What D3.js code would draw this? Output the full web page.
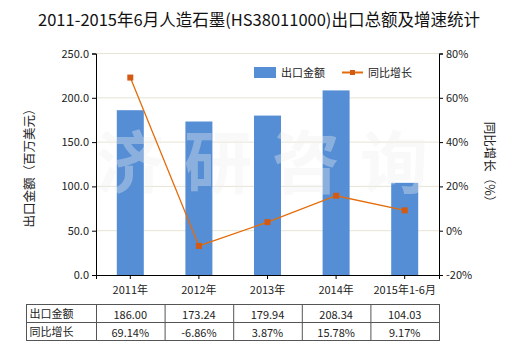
<!DOCTYPE html>
<html><head><meta charset="utf-8">
<script src="https://cdn.jsdelivr.net/npm/d3@7"></script>
<style>body{margin:0;background:#fff}svg{display:block}text{font-family:"Noto Sans CJK SC","Noto Sans",sans-serif}</style>
</head><body><svg id="c" width="520" height="350"></svg>
<script>
const categories=["2011年","2012年","2013年","2014年","2015年1-6月"];
const exportValues=[186.00,173.24,179.94,208.34,104.03];
const growthValues=[69.14,-6.86,3.87,15.78,9.17];
const exportLabels=["186.00","173.24","179.94","208.34","104.03"];
const growthLabels=["69.14%","-6.86%","3.87%","15.78%","9.17%"];
const leftTicks=[0,50,100,150,200,250];
const rightTicks=[-20,0,20,40,60,80];
const seriesNames=["出口金额","同比增长"];
const title="2011-2015年6月人造石墨(HS38011000)出口总额及增速统计";

const svg=d3.select("#c");
const L=96,R=439,T=53.5,B=275;
const xc=d3.scaleBand().domain(categories).range([L,R]);
const y=d3.scaleLinear().domain([0,250]).range([B,T]);
const y2=d3.scaleLinear().domain([-20,80]).range([B,T]);
const blue="#558ed5",orange="#e46c0a",mark="#d35a12";

svg.append("text").attr("x",259).attr("y",26).attr("text-anchor","middle").attr("font-size",16.5).attr("fill","#111").text(title);

// grid
svg.append("g").selectAll("line").data(leftTicks.slice(1)).join("line")
 .attr("x1",L).attr("x2",R).attr("y1",d=>y(d)).attr("y2",d=>y(d)).attr("stroke","#e6e4d4").attr("stroke-width",1);

// bars
svg.append("g").selectAll("rect").data(exportValues).join("rect")
 .attr("x",(d,i)=>xc(categories[i])+xc.bandwidth()/2-13.5).attr("width",27)
 .attr("y",d=>y(d)).attr("height",d=>B-y(d)).attr("fill",blue);

// watermark
svg.append("g").selectAll("text").data(["济","研","咨","询"]).join("text")
 .attr("x",(d,i)=>130+i*88).attr("y",188).attr("text-anchor","middle").attr("font-size",68).attr("font-weight","bold")
 .attr("fill","#f0f0f0").attr("opacity",0.35).text(d=>d);

// line
const line=d3.line().x((d,i)=>xc(categories[i])+xc.bandwidth()/2).y(d=>y2(d));
svg.append("path").datum(growthValues).attr("d",line).attr("fill","none").attr("stroke",orange).attr("stroke-width",1.3);
svg.append("g").selectAll("rect").data(growthValues).join("rect")
 .attr("x",(d,i)=>xc(categories[i])+xc.bandwidth()/2-3).attr("y",d=>y2(d)-3).attr("width",6).attr("height",6).attr("fill",mark);

// axes
const ax=svg.append("g").attr("transform",`translate(${L},0)`).call(d3.axisLeft(y).tickValues(leftTicks).tickFormat(d3.format(".1f")).tickSizeOuter(0).tickSize(4));
const ax2=svg.append("g").attr("transform",`translate(${R},0)`).call(d3.axisRight(y2).tickValues(rightTicks).tickFormat(d=>d+"%").tickSizeOuter(0).tickSize(4));
const axx=svg.append("g").attr("transform",`translate(0,${B})`).call(d3.axisBottom(xc).tickSizeOuter(0).tickSize(4));
[ax,ax2,axx].forEach(g=>{g.selectAll("path,line").attr("stroke","#000");g.selectAll("text").attr("font-size",11).attr("fill","#222").style("font-family",'"Noto Sans CJK SC",sans-serif');});
axx.selectAll("text").attr("dy","1.1em");

// axis titles
svg.append("text").attr("transform","translate(34,165) rotate(-90)").attr("text-anchor","middle").attr("font-size",12.5).attr("fill","#222").text("出口金额（百万美元）");
svg.append("text").attr("transform","translate(485,165) rotate(90)").attr("text-anchor","middle").attr("font-size",12.5).attr("fill","#222").text("同比增长（%）");

// legend
svg.append("rect").attr("x",254).attr("y",67).attr("width",22).attr("height",11).attr("fill",blue);
svg.append("text").attr("x",281).attr("y",77).attr("font-size",11).attr("fill","#222").text(seriesNames[0]);
svg.append("line").attr("x1",342).attr("x2",363).attr("y1",72.5).attr("y2",72.5).attr("stroke",orange).attr("stroke-width",2);
svg.append("rect").attr("x",350).attr("y",70).attr("width",5).attr("height",5).attr("fill",mark);
svg.append("text").attr("x",368).attr("y",77).attr("font-size",11).attr("fill","#222").text(seriesNames[1]);

// table
const tL=26.5,tT=304.5,rh=18;
const colX=[tL,L+0.5].concat(categories.map(c=>xc(c)+xc.bandwidth()+0.5));
const tb=svg.append("g");
tb.append("rect").attr("x",tL).attr("y",tT).attr("width",colX[colX.length-1]-tL).attr("height",rh*2).attr("fill","none").attr("stroke","#555");
tb.append("line").attr("x1",tL).attr("x2",colX[colX.length-1]).attr("y1",tT+rh).attr("y2",tT+rh).attr("stroke","#555");
tb.selectAll("line.v").data(colX.slice(1,-1)).join("line").attr("class","v").attr("x1",d=>d).attr("x2",d=>d).attr("y1",tT).attr("y2",tT+rh*2).attr("stroke","#555");
[exportLabels,growthLabels].forEach((row,r)=>{
 tb.append("text").attr("x",tL+3).attr("y",tT+rh*r+13).attr("font-size",11).attr("fill","#222").text(seriesNames[r]);
 tb.selectAll("text.r"+r).data(row).join("text").attr("class","r"+r).attr("x",(d,i)=>xc(categories[i])+xc.bandwidth()/2).attr("y",tT+rh*r+14).attr("text-anchor","middle").attr("font-size",11).attr("fill","#222").text(d=>d);
});
</script></body></html>
